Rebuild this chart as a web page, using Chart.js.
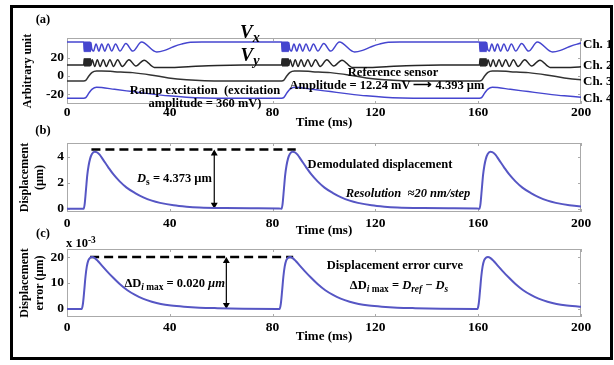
<!DOCTYPE html>
<html>
<head>
<meta charset="utf-8">
<script src="https://cdn.jsdelivr.net/npm/chart.js@4.4.1/dist/chart.umd.min.js"></script>
<style>
  body { margin: 0; background: #fff; }
  #page { position: relative; width: 614px; height: 365px; overflow: hidden; background: #fff; }
  #frame { position: absolute; left: 10px; top: 5px; width: 603px; height: 355px; border: 3px solid #000; box-sizing: border-box; }
  canvas { position: absolute; left: 0; }
  .t { position: absolute; transform: translate(-50%, -50%); white-space: nowrap; font-family: "Liberation Serif", "Times New Roman", serif; font-weight: bold; font-size: 12.5px; color: #000; line-height: 1; }
  .l { transform: translate(0, -50%); }
  .r { transform: translate(-100%, -50%); }
  sub { font-size: 0.75em; vertical-align: -0.3em; line-height: 0; }
  sup { font-size: 0.75em; vertical-align: 0.45em; line-height: 0; }
</style>
</head>
<body>
<div id="page">
  <div id="frame"></div>
  <canvas id="chartA" width="614" height="130" style="top:0px"></canvas>
  <canvas id="chartB" width="614" height="113" style="top:125px"></canvas>
  <canvas id="chartC" width="614" height="116" style="top:228px"></canvas>

  <div class="t" style="left:43px;top:19px">(a)</div>
  <div class="t" style="left:43px;top:130px">(b)</div>
  <div class="t" style="left:43px;top:233px">(c)</div>
  <div class="t l" style="left:66px;top:243px">x 10<sup>-3</sup></div>

  <div class="t" style="left:250px;top:31px;font-size:19px"><i>V<sub>x</sub></i></div>
  <div class="t" style="left:250px;top:54px;font-size:19px"><i>V<sub>y</sub></i></div>
  <div class="t l" style="left:583px;top:43px;font-size:13px">Ch. 1</div>
  <div class="t l" style="left:583px;top:64px;font-size:13px">Ch. 2</div>
  <div class="t l" style="left:583px;top:80px;font-size:13px">Ch. 3</div>
  <div class="t l" style="left:583px;top:97px;font-size:13px">Ch. 4</div>
  <div class="t" style="left:205px;top:90px">Ramp excitation&nbsp; (excitation</div>
  <div class="t" style="left:205px;top:103px">amplitude = 360 mV)</div>
  <div class="t" style="left:393px;top:72px">Reference sensor</div>
  <div class="t" style="left:387px;top:85px">Amplitude = 12.24 mV ⟶ 4.393 µm</div>

  <div class="t" style="left:380px;top:164px">Demodulated displacement</div>
  <div class="t" style="left:408px;top:193px"><i>Resolution&nbsp; ≈20 nm/step</i></div>
  <div class="t r" style="left:212px;top:178px"><i>D</i><sub>s</sub> = 4.373 µm</div>

  <div class="t" style="left:395px;top:265px">Displacement error curve</div>
  <div class="t" style="left:399px;top:285px">ΔD<sub><i>i</i> max</sub> = <i>D<sub>ref</sub></i> − <i>D<sub>s</sub></i></div>
  <div class="t r" style="left:225px;top:283px">ΔD<sub><i>i</i> max</sub> = 0.020 <i>µm</i></div>
</div>

<script>
// time axis (ms)
const xTicks = [0, 40, 80, 120, 160, 200];
// onset of each ramp excitation (ms)
const onsets = [6.5, 83.5, 160.5];

// panel (a) - four channels, [ms after onset, arbitrary unit]
const aTicks = [-20, 0, 20];
const ch1Start = 37.5;
const ch1Pulse = [[0,37.5],[0.2,27],[0.4,37.5],[0.6,27],[0.8,37.5],[1.0,27],[1.2,37.5],[1.4,27],[1.6,37.5],[1.8,27],[2.0,37.5],[2.2,27],[2.4,37.5],[2.6,27],[2.8,37],[3.1,30.5],[3.8,27.5],[4.8,35.5],[5.9,27.5],[7.0,35.5],[8.2,27.5],[9.5,35.5],[10.9,27.5],[12.4,35.5],[14.1,27.5],[16.4,36],[19.1,27.5],[22.5,37.5],[28.4,26.5],[31.5,28.3],[34.9,32.3],[38,35.2],[41.5,37.3],[46,37.5]];
const ch2Start = 12;
const ch2Pulse = [[0,12],[0.2,19],[0.4,11],[0.6,19],[0.8,11],[1.0,19],[1.2,11],[1.4,19],[1.6,11],[1.8,19],[2.0,11],[2.2,19],[2.4,11],[2.6,19],[2.8,11.5],[3.3,18],[4.3,10.5],[5.3,18],[6.4,10.5],[7.6,18],[8.8,10.5],[10.2,18],[11.6,10.5],[13.2,18],[15.0,10.5],[17.6,18],[20.3,11],[23.5,17.5],[27.5,9.5],[33,9.3],[42,10.5],[52,11.6],[62,12]];
const ch3Start = -5.5;
const ch3Pulse = [[0,-5.5],[0.8,-5],[2,0],[3.3,4],[5,5.5],[7,5.6],[12,4.8],[19,3.7],[26,1.2],[33,-2.2],[40,-4.3],[47,-5.3],[56,-5.5]];
const ch4Start = -24.7;
const ch4Pulse = [[0,-24.7],[0.8,-24],[2,-19],[3.3,-14.5],[5,-12.5],[7,-12.8],[12,-14.8],[19,-17.3],[26,-19.8],[33,-22],[40,-23.6],[47,-24.4],[56,-24.7]];

// panel (b) - demodulated displacement (um)
const bTicks = [0, 2, 4];
const dispPulse = [[0,0],[0.4,0.4],[0.9,1.5],[1.4,2.6],[1.9,3.3],[2.5,3.85],[3.2,4.2],[4.2,4.37],[5,4.35],[6.2,4.15],[7.6,3.75],[9.5,3.2],[11.5,2.65],[14,2.1],[16.7,1.62],[20,1.2],[23.2,0.87],[26.5,0.62],[29.7,0.45],[35,0.26],[40,0.16],[45,0.1],[55,0.05],[65,0.03],[76,0.02]];
const dashB_t = [9.5, 89];
const dashB_v = 4.55;
const arrowB_t = 57.3;
const arrowB_v = [4.25, 0.3];

// panel (c) - displacement error (x 10^-3 um)
const cTicks = [0, 10, 20];
const errPulse = [[-0.8,0],[-0.3,2],[0.2,7],[0.7,12.5],[1.2,16.3],[1.8,18.7],[2.5,19.7],[3.3,20],[4.3,19.6],[5.5,18.5],[7,16.8],[9,14.6],[11.5,12],[14,9.6],[17,7.2],[20,5.4],[23,4],[26.5,2.8],[30,1.9],[34,1.3],[39,0.85],[45,0.5],[52,0.3],[62,0.12],[75.5,0]];
const dashC_t = [9, 88];
const dashC_v = 20;
const arrowC_t = 62;
const arrowC_v = [18.5, 1.5];

const serif = '"Liberation Serif", "Times New Roman", serif';
const blue = '#4545cf';
const curveBlue = '#5656c4';

function train(start, pulse) {
  const pts = [{ x: 0, y: start }];
  onsets.forEach(t0 => pulse.forEach(p => pts.push({ x: t0 + p[0], y: p[1] })));
  return pts;
}

const boxPlugin = {
  id: 'box',
  beforeDatasetsDraw(chart) {
    const { ctx, chartArea: a, scales: { x, y } } = chart;
    ctx.save();
    ctx.strokeStyle = '#aaaaaa';
    ctx.lineWidth = 1;
    ctx.strokeRect(a.left + 0.5, a.top + 0.5, a.right - a.left - 1, a.bottom - a.top - 1);
    ctx.beginPath();
    x.ticks.forEach(t => {
      const px = Math.round(x.getPixelForValue(t.value)) + 0.5;
      ctx.moveTo(px, a.bottom); ctx.lineTo(px, a.bottom - 3);
      ctx.moveTo(px, a.top); ctx.lineTo(px, a.top + 3);
    });
    y.ticks.forEach(t => {
      const py = Math.round(y.getPixelForValue(t.value)) + 0.5;
      ctx.moveTo(a.left, py); ctx.lineTo(a.left + 3, py);
      ctx.moveTo(a.right, py); ctx.lineTo(a.right - 3, py);
    });
    ctx.stroke();
    ctx.restore();
  }
};

function makeOptions(c) {
  return {
    responsive: false,
    animation: false,
    devicePixelRatio: 1,
    layout: { padding: { top: c.padTop, left: 0, right: 33, bottom: 0 } },
    plugins: { legend: { display: false }, tooltip: { enabled: false } },
    elements: { point: { radius: 0 }, line: { cubicInterpolationMode: 'monotone' } },
    scales: {
      x: {
        type: 'linear', min: 0, max: 200,
        afterBuildTicks: s => { s.ticks = xTicks.map(v => ({ value: v })); },
        afterFit: s => { s.height = c.xHeight; },
        grid: { display: false, drawTicks: false },
        border: { display: false },
        ticks: { autoSkip: false, maxRotation: 0, padding: c.xTickPad, color: '#000', font: { family: serif, size: 13.5, weight: 'bold' } },
        title: { display: true, text: 'Time (ms)', color: '#000', padding: { top: 0, bottom: 0 }, font: { family: serif, size: 13, weight: 'bold' } }
      },
      y: {
        min: c.yMin, max: c.yMax,
        afterBuildTicks: s => { s.ticks = c.yTicks.map(v => ({ value: v })); },
        afterFit: s => { s.width = 67; },
        grid: { display: false, drawTicks: false },
        border: { display: false },
        ticks: { autoSkip: false, padding: 3, color: '#000', font: { family: serif, size: 13.5, weight: 'bold' } },
        title: { display: true, text: c.yTitle, color: '#000', padding: { top: c.yTitlePad, bottom: 0 }, font: { family: serif, size: 12, weight: 'bold', lineHeight: 1.2 } }
      }
    }
  };
}

function chLine(data, color, width) {
  return { data: data, borderColor: color, borderWidth: width, pointRadius: 0, fill: false };
}
function dashLine(ts, v) {
  return { data: ts.map(t => ({ x: t, y: v })), borderColor: '#000', borderWidth: 2.5, borderDash: [9, 5], pointRadius: 0, cubicInterpolationMode: 'default', tension: 0 };
}
function arrow(t, vs) {
  return { data: vs.map(v => ({ x: t, y: v })), borderColor: '#000', borderWidth: 1.2, tension: 0,
    pointRadius: 4, pointStyle: 'triangle', pointRotation: [0, 180], pointBackgroundColor: '#000', pointBorderColor: '#000', pointBorderWidth: 0 };
}

new Chart(document.getElementById('chartA'), {
  type: 'line',
  data: { datasets: [
    chLine(train(ch1Start, ch1Pulse), blue, 1.5),
    chLine(train(ch2Start, ch2Pulse), '#262626', 1.5),
    chLine(train(ch3Start, ch3Pulse), '#333333', 1.5),
    chLine(train(ch4Start, ch4Pulse), blue, 1.5)
  ] },
  options: makeOptions({ padTop: 38, xHeight: 26, xTickPad: 0, yMin: -31, yMax: 42, yTicks: aTicks, yTitle: 'Arbitrary unit', yTitlePad: 21 }),
  plugins: [boxPlugin]
});

new Chart(document.getElementById('chartB'), {
  type: 'line',
  data: { datasets: [
    chLine(train(0, dispPulse), curveBlue, 2),
    dashLine(dashB_t, dashB_v),
    arrow(arrowB_t, arrowB_v)
  ] },
  options: makeOptions({ padTop: 18, xHeight: 26, xTickPad: 3, yMin: -0.25, yMax: 5.05, yTicks: bTicks, yTitle: ['Displacement', '(µm)'], yTitlePad: 18 }),
  plugins: [boxPlugin]
});

new Chart(document.getElementById('chartC'), {
  type: 'line',
  data: { datasets: [
    chLine(train(0, errPulse), curveBlue, 2),
    dashLine(dashC_t, dashC_v),
    arrow(arrowC_t, arrowC_v)
  ] },
  options: makeOptions({ padTop: 21, xHeight: 27, xTickPad: 2, yMin: -3.1, yMax: 23.1, yTicks: cTicks, yTitle: ['Displacement', 'error (µm)'], yTitlePad: 18 }),
  plugins: [boxPlugin]
});
</script>
</body>
</html>
